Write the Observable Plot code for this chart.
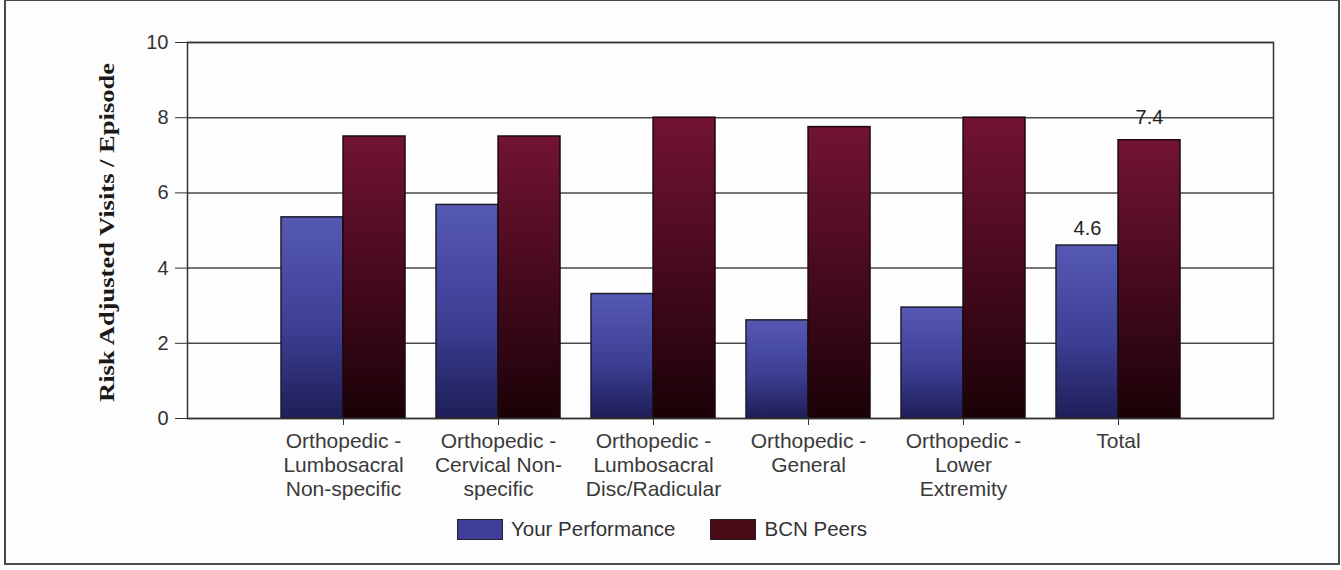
<!DOCTYPE html>
<html>
<head>
<meta charset="utf-8">
<script src="https://cdn.jsdelivr.net/npm/d3@7"></script>
<script src="https://cdn.jsdelivr.net/npm/@observablehq/plot@0.6"></script>
<style>
  html, body { margin: 0; padding: 0; background: #ffffff; }
  #page { position: relative; width: 1341px; height: 570px; overflow: hidden; background: #fdfdfd;
          font-family: "Liberation Sans", Arial, sans-serif; }
  #border { position: absolute; left: 4px; top: -1px; width: 1336px; height: 566px;
            box-sizing: border-box; border: 2px solid #4a4a4a; pointer-events: none; }
  #chart { position: absolute; left: 0; top: 0; }
  #legend { position: absolute; left: 457px; top: 517px; display: flex; align-items: center;
            font-size: 20.5px; color: #333; }
  .item { display: flex; align-items: center; }
  .sw { width: 44px; height: 19px; border: 1px solid #222; margin-right: 8px; }
</style>
</head>
<body>
<div id="page">
  <div id="chart"></div>
  <div id="legend"></div>
  <div id="border"></div>
</div>
<script>
// ---- data ----
const categories = [
  "Orthopedic - Lumbosacral Non-specific",
  "Orthopedic - Cervical Non-specific",
  "Orthopedic - Lumbosacral Disc/Radicular",
  "Orthopedic - General",
  "Orthopedic - Lower Extremity",
  "Total"
];
const categoryLabels = [
  "Orthopedic -\nLumbosacral\nNon-specific",
  "Orthopedic -\nCervical Non-\nspecific",
  "Orthopedic -\nLumbosacral\nDisc/Radicular",
  "Orthopedic -\nGeneral",
  "Orthopedic -\nLower\nExtremity",
  "Total"
];
const seriesNames = ["Your Performance", "BCN Peers"];
const yourPerformance = [5.35, 5.68, 3.31, 2.61, 2.95, 4.6];
const bcnPeers = [7.5, 7.5, 8.0, 7.75, 8.0, 7.4];
const yTicks = [0, 2, 4, 6, 8, 10];
const yLabel = "Risk Adjusted Visits / Episode";
const labelledCategory = "Total";

// ---- layout ----
const W = 1341, H = 505, mL = 187, mR = 68, mT = 42, mB = 87;
const padIn = 0.2, padOut = 0.6;
const step = (W - mL - mR) / (categories.length - padIn + 2 * padOut);
const half = step * (1 - padIn) / 2;

const rows = categories.map((c, i) => ({
  category: c, label: categoryLabels[i], you: yourPerformance[i], peers: bcnPeers[i]
}));
const labelled = rows.filter(d => d.category === labelledCategory);

const chart = Plot.plot({
  width: W, height: H,
  marginLeft: mL, marginRight: mR, marginTop: mT, marginBottom: mB,
  style: { fontFamily: "Liberation Sans, Arial, sans-serif", fontSize: "20px", color: "#333", background: "transparent", overflow: "visible" },
  x: { domain: categories, paddingInner: padIn, paddingOuter: padOut, tickSize: 7, tickFormat: () => "", label: null },
  y: { domain: [0, 10], ticks: yTicks, tickSize: 12, tickPadding: 7, label: null },
  marks: [
    Plot.ruleY(yTicks, { stroke: "#4a4a4a", strokeWidth: 1.5 }),
    Plot.barY(rows, { x: "category", y: "you", insetRight: half, fill: "url(#gradBlue)", stroke: "#1c1c2c", strokeWidth: 1.5 }),
    Plot.barY(rows, { x: "category", y: "peers", insetLeft: half, fill: "url(#gradRed)", stroke: "#1c080e", strokeWidth: 1.5 }),
    Plot.frame({ stroke: "#333", strokeWidth: 1.5 }),
    Plot.text(rows, { x: "category", text: "label", frameAnchor: "bottom", lineAnchor: "top", dy: 12, lineHeight: 1.15, fontSize: 21, fill: "#3a3a3a" }),
    Plot.text(labelled, { x: "category", y: "you", text: d => d.you.toFixed(1), dx: -half / 2, dy: -11, lineAnchor: "bottom", fontSize: 20, fill: "#222" }),
    Plot.text(labelled, { x: "category", y: "peers", text: d => d.peers.toFixed(1), dx: half / 2, dy: -16, lineAnchor: "bottom", fontSize: 20, fill: "#222" }),
    Plot.text([yLabel], { text: d => d, frameAnchor: "left", textAnchor: "middle", lineAnchor: "middle", dx: -80, dy: 2, rotate: -90, fontFamily: "Liberation Serif, Times New Roman, serif", fontWeight: "bold", fontSize: 20, fill: "#1a1a1a" })
  ]
});

// gradients
const svg = d3.select(chart.tagName.toLowerCase() === "svg" ? chart : chart.querySelector("svg"));
const defs = svg.insert("defs", ":first-child");
const gb = defs.append("linearGradient").attr("id", "gradBlue").attr("x1", 0).attr("y1", 0).attr("x2", 0).attr("y2", 1);
gb.append("stop").attr("offset", "0%").attr("stop-color", "#5659b4");
gb.append("stop").attr("offset", "55%").attr("stop-color", "#3d3f94");
gb.append("stop").attr("offset", "100%").attr("stop-color", "#1e1e58");
const gr = defs.append("linearGradient").attr("id", "gradRed").attr("x1", 0).attr("y1", 0).attr("x2", 0).attr("y2", 1);
gr.append("stop").attr("offset", "0%").attr("stop-color", "#721335");
gr.append("stop").attr("offset", "50%").attr("stop-color", "#470a1d");
gr.append("stop").attr("offset", "100%").attr("stop-color", "#1a0207");

// stretch y label like the original
svg.selectAll("text").filter(function () { return this.textContent === yLabel; })
  .attr("textLength", 339).attr("lengthAdjust", "spacingAndGlyphs");

document.getElementById("chart").appendChild(chart);

// legend
const legendColors = ["#3d3f98", "#4a0a18"];
const legend = d3.select("#legend");
seriesNames.forEach((name, i) => {
  const it = legend.append("div").attr("class", "item").style("margin-right", i === 0 ? "35px" : "0");
  it.append("div").attr("class", "sw").style("background", legendColors[i]);
  it.append("span").text(name);
});
</script>
</body>
</html>
